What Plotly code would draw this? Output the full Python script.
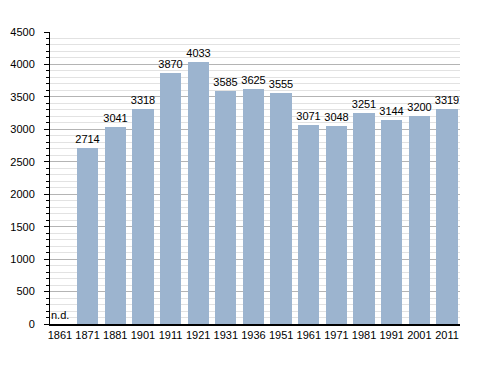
import plotly.graph_objects as go

years = ["1861", "1871", "1881", "1901", "1911", "1921", "1931", "1936", "1951", "1961", "1971", "1981", "1991", "2001", "2011"]
population = [None, 2714, 3041, 3318, 3870, 4033, 3585, 3625, 3555, 3071, 3048, 3251, 3144, 3200, 3319]
labels = ["" if v is None else str(v) for v in population]
y_ticks = [0, 500, 1000, 1500, 2000, 2500, 3000, 3500, 4000, 4500]

fig = go.Figure()
fig.add_trace(go.Bar(
    x=list(range(len(years))), y=[0 if v is None else v for v in population],
    text=labels, textposition="outside", cliponaxis=False,
    textfont=dict(family="Liberation Sans, Arial", size=11, color="black"),
    marker=dict(color="#9cb4cf", line=dict(width=0)),
    width=0.77,
))
fig.add_annotation(x=0, y=0, xref="x", yref="y", text="n.d.", showarrow=False,
                   xanchor="center", yanchor="bottom", yshift=1,
                   font=dict(family="Liberation Sans, Arial", size=11, color="black"))
fig.update_layout(
    width=480, height=365,
    margin=dict(l=42, r=28, t=24, b=49),
    plot_bgcolor="white", paper_bgcolor="white",
    showlegend=False,
    font=dict(family="Liberation Sans, Arial", size=11, color="black"),
    bargap=0,
    uniformtext=dict(minsize=11, mode="show"),
)
fig.update_xaxes(
    range=[-0.36, 14.47], automargin=False,
    tickmode="array", tickvals=list(range(len(years))), ticktext=years,
    showline=True, linecolor="black", linewidth=1.5,
    showgrid=False, ticks="", tickfont=dict(size=11, color="black"),
)
fig.update_yaxes(
    range=[0, 4500], automargin=False,
    tickmode="array", tickvals=y_ticks,
    showline=True, linecolor="black", linewidth=1,
    showgrid=True, gridcolor="#b4b4b4", gridwidth=1,
    ticks="outside", ticklen=5, tickcolor="black",
    ticklabelstandoff=7,
    minor=dict(dtick=100, showgrid=True, gridcolor="#e2e2e2", gridwidth=1,
               ticks="outside", ticklen=3, tickcolor="black"),
    zeroline=False, tickfont=dict(size=11, color="black"),
)
fig.update_traces(constraintext="none", selector=dict(type="bar"))
fig.write_html("out.html")
